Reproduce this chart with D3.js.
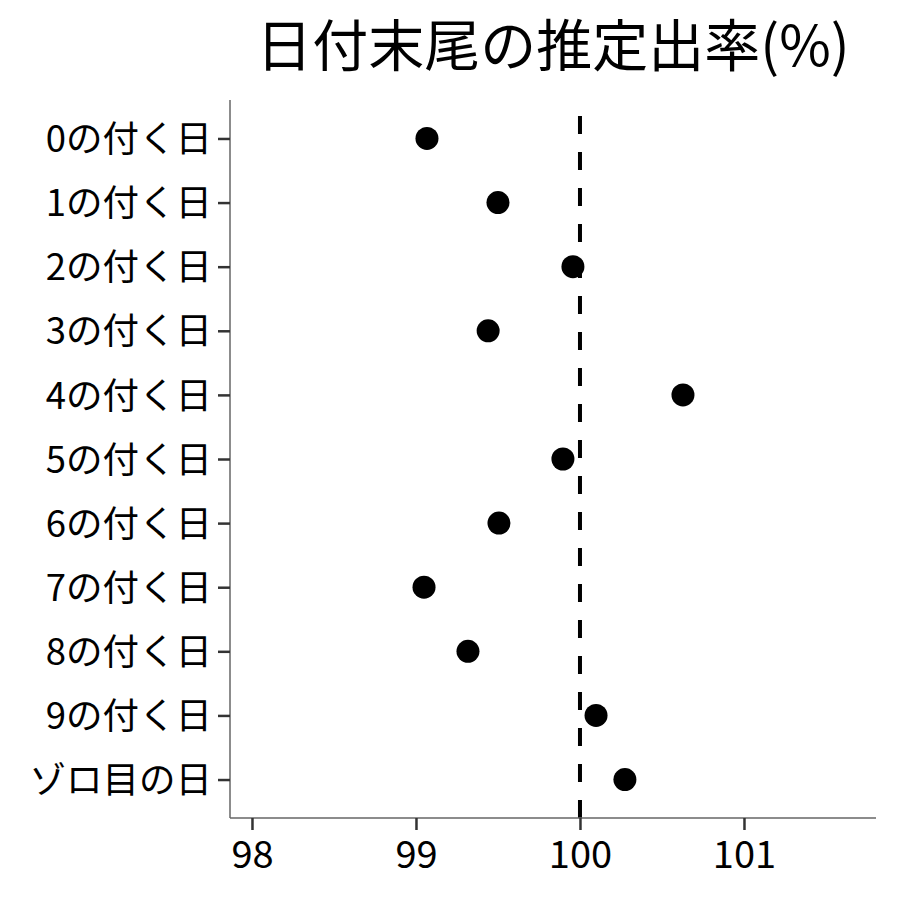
<!DOCTYPE html>
<html><head><meta charset="utf-8">
<script src="https://cdn.jsdelivr.net/npm/d3@7"></script>
<style>body{margin:0;background:#fff}svg{display:block}text{font-family:"Noto Sans CJK JP","Noto Sans",sans-serif}</style>
</head><body>
<script>
const categories = ["0の付く日","1の付く日","2の付く日","3の付く日","4の付く日","5の付く日","6の付く日","7の付く日","8の付く日","9の付く日","ゾロ目の日"];
const values = [99.067, 99.50, 99.957, 99.44, 100.628, 99.896, 99.506, 99.049, 99.317, 100.098, 100.274];
const xTicks = [98, 99, 100, 101];
const refValue = 100;
const title = "日付末尾の推定出率(%)";

const W = 900, H = 900;
const m = {left: 230, right: 24, top: 100, bottom: 82};
const svg = d3.select("body").append("svg").attr("width", W).attr("height", H);

const x = d3.scaleLinear().domain([97.866, 101.805]).range([m.left, W - m.right]);
const y = d3.scalePoint().domain(categories).range([m.top, H - m.bottom]).padding(0.6);

// reference line
svg.append("line")
  .attr("x1", x(refValue)).attr("x2", x(refValue))
  .attr("y1", H - m.bottom).attr("y2", m.top)
  .attr("stroke", "#000").attr("stroke-width", 4)
  .attr("stroke-dasharray", "18,18");

// points
svg.append("g").selectAll("circle").data(categories).join("circle")
  .attr("cx", (d, i) => x(values[i]))
  .attr("cy", d => y(d))
  .attr("r", 11.5)
  .attr("fill", "#000");

// axes
const xAxis = svg.append("g").attr("transform", `translate(0,${H - m.bottom})`)
  .call(d3.axisBottom(x).tickValues(xTicks).tickSize(12).tickPadding(8).tickFormat(d3.format("d")));
const yAxis = svg.append("g").attr("transform", `translate(${m.left},0)`)
  .call(d3.axisLeft(y).tickSize(12).tickPadding(6));

[xAxis, yAxis].forEach(g => {
  g.select(".domain").attr("stroke", "#666").attr("stroke-width", 1.5);
  g.selectAll(".tick line").attr("stroke", "#333").attr("stroke-width", 2.5);
  g.selectAll(".tick text").attr("fill", "#000");
});
xAxis.selectAll(".tick text").style("font-size", "38px").attr("dy", "0.79em");
yAxis.selectAll(".tick text").style("font-size", "36.5px").attr("dy", "0.36em");
xAxis.select(".domain").attr("d", `M${m.left},0H${W - m.right}`);
yAxis.select(".domain").attr("d", `M0,${m.top}V${H - m.bottom}`);

svg.append("text")
  .attr("x", (m.left + W - m.right) / 2).attr("y", 66)
  .attr("text-anchor", "middle")
  .style("font-size", "56px").attr("fill", "#000")
  .text(title);
</script>
</body></html>
